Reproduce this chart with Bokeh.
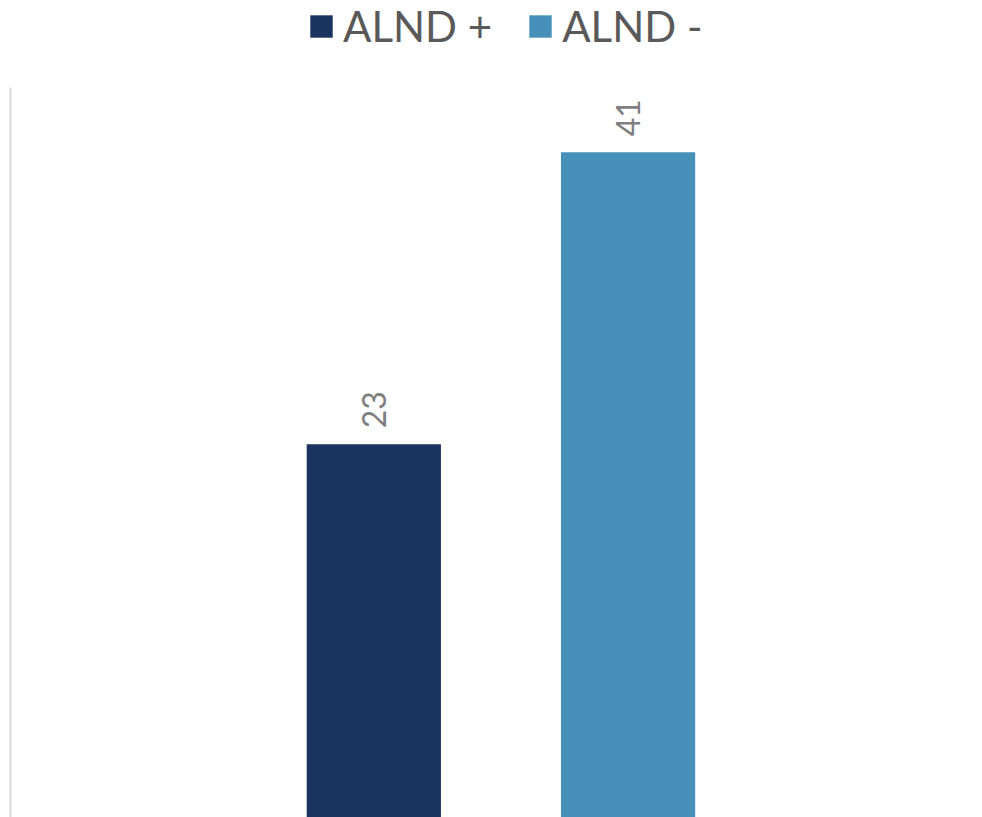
import math
from bokeh.plotting import figure
from bokeh.models import ColumnDataSource, Range1d, FixedTicker
from bokeh.core.properties import value
from bokeh.embed import file_html
from bokeh.resources import INLINE

categories = ["ALND +", "ALND -"]
values = [23, 41]
colors = ["#1B3360", "#4690BA"]
labels = [str(v) for v in values]

source = ColumnDataSource(dict(
    x=list(range(len(categories))),
    top=values,
    category=categories,
    color=colors,
    label=labels,
))

p = figure(width=982, height=817, output_backend="svg", toolbar_location=None,
           x_range=Range1d(-1.429, 2.394), y_range=Range1d(0, 50.35),
           min_border_left=10, min_border_right=0, min_border_bottom=0, min_border_top=0)

p.vbar(x="x", top="top", width=0.528, color="color", line_color=None,
       source=source, legend_field="category")

p.text(x="x", y="top", text="label", angle=math.pi / 2, source=source,
       text_align="left", text_baseline="middle", y_offset=-16,
       text_font=value("Lato"), text_font_size="32px", text_color="#7F7F7F")

p.xaxis.visible = False
p.xgrid.visible = False
p.ygrid.visible = False
p.yaxis.ticker = FixedTicker(ticks=[])
p.yaxis.major_tick_line_color = None
p.yaxis.minor_tick_line_color = None
p.yaxis.axis_line_color = "#D9D9D9"
p.yaxis.axis_line_width = 2
p.yaxis.bounds = (0, 45.0)
p.outline_line_color = None

p.legend.orientation = "horizontal"
p.legend.label_text_font = "Lato"
p.legend.label_text_font_size = "42px"
p.legend.label_text_color = "#595959"
p.legend.glyph_width = 28
p.legend.glyph_height = 28
p.legend.label_standoff = 8
p.legend.spacing = 34
p.legend.padding = 0
p.legend.margin = 0
p.legend.border_line_color = None
p.legend.background_fill_alpha = 0
p.legend.location = (297, 766)

open("out.html", "w").write(file_html(p, INLINE))
